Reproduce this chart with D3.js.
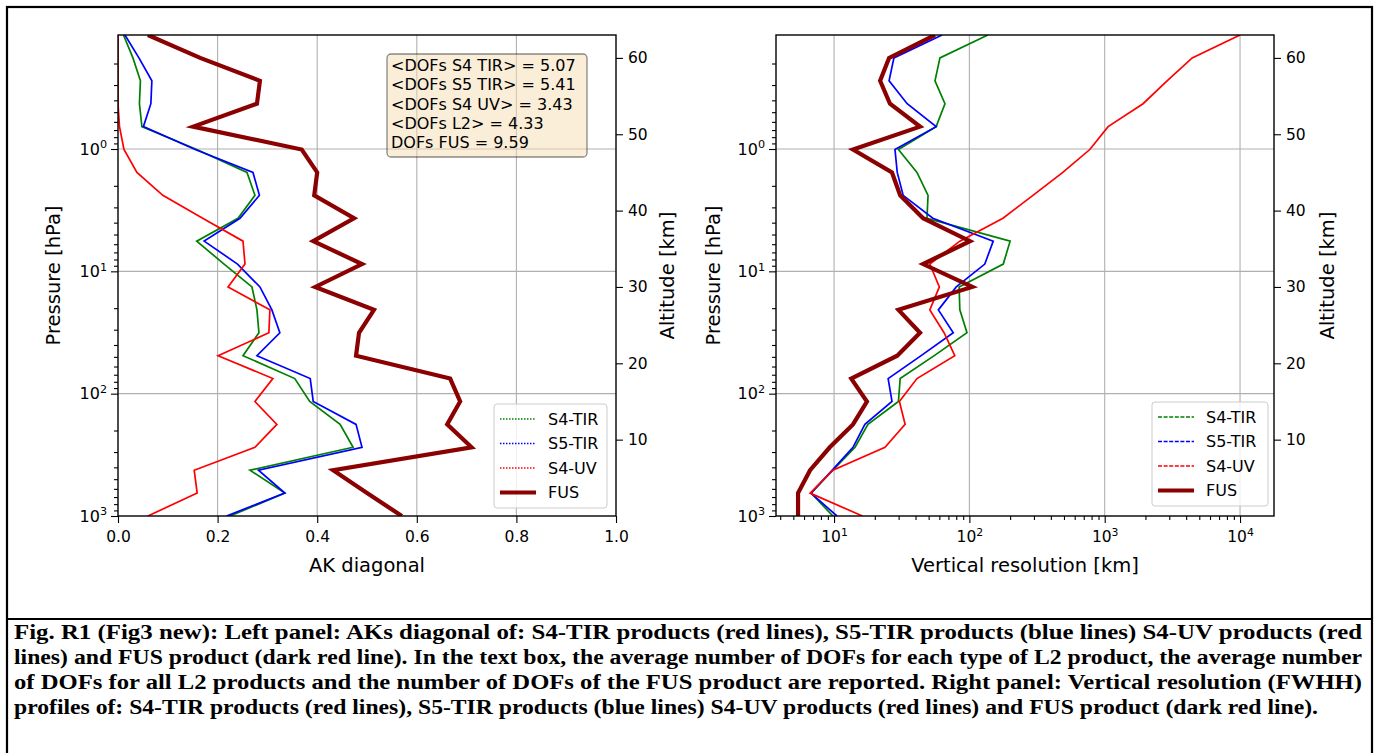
<!DOCTYPE html>
<html>
<head>
<meta charset="utf-8">
<script src="https://cdn.jsdelivr.net/npm/d3@7"></script>
<style>
  body { margin: 0; background: #fff; }
  text { font-family: "DejaVu Sans", sans-serif; }
  text.caption { font-family: "Liberation Serif", "Times New Roman", serif; font-weight: bold; }
</style>
</head>
<body>
<div id="fig"></div>
<script>
// --- Data: altitude grid (km) and profiles ---
const altitude = [0, 3, 6, 9, 12, 15, 18, 21, 24, 27, 30, 33, 36, 39, 42, 45, 48, 51, 54, 57, 60, 63];

// left panel: AK diagonal
const akS4TIR = [0.225, 0.335, 0.265, 0.472, 0.446, 0.385, 0.355, 0.251, 0.283, 0.279, 0.269, 0.213, 0.158, 0.241, 0.275, 0.259, 0.158, 0.048, 0.043, 0.045, 0.030, 0.011];
const akS5TIR = [0.218, 0.335, 0.282, 0.490, 0.478, 0.392, 0.386, 0.279, 0.325, 0.309, 0.285, 0.240, 0.173, 0.245, 0.284, 0.271, 0.155, 0.051, 0.066, 0.068, 0.042, 0.014];
const akS4UV  = [0.060, 0.159, 0.153, 0.275, 0.319, 0.275, 0.311, 0.201, 0.303, 0.305, 0.221, 0.255, 0.251, 0.170, 0.090, 0.038, 0.012, 0.003, 0.000, 0.000, 0.000, 0.000];
const akFUS   = [0.570, 0.500, 0.432, 0.710, 0.661, 0.687, 0.667, 0.478, 0.484, 0.514, 0.396, 0.490, 0.392, 0.474, 0.394, 0.400, 0.369, 0.151, 0.279, 0.285, 0.165, 0.060];

// right panel: vertical resolution (km)
const vrS4TIR = [9.8, 6.76, 9.8, 14.3, 17.8, 29.9, 30.8, 55, 96, 85, 84, 178, 200, 48.6, 49.5, 41, 29.9, 56.8, 66, 55.7, 60.6, 137];
const vrS5TIR = [10.5, 6.76, 9.7, 13.8, 16.9, 26.8, 25.1, 44, 76, 59, 80, 130, 150, 53.7, 32.4, 29.3, 28.2, 56.8, 34.7, 25.5, 27.7, 62.8];
const vrS4UV  = [16.2, 6.65, 9.8, 23.8, 33.5, 30.4, 41, 78, 65, 51, 60, 51, 85, 177, 295, 490, 776, 1060, 1920, 2890, 4430, 10000];
const vrFUS   = [5.42, 5.42, 6.65, 9.3, 13.8, 17.5, 13.4, 29.3, 43.2, 29.9, 105, 45.5, 101, 45.5, 30.8, 26.8, 13.8, 43.2, 25.9, 21.9, 25.5, 55.7];

const seriesNames = ["S4-TIR", "S5-TIR", "S4-UV", "FUS"];
const seriesColors = ["#008000", "#0000ff", "#ff0000", "#8b0000"];

const akTicks = [0, 0.2, 0.4, 0.6, 0.8, 1.0];
const vrTicks = [10, 100, 1000, 10000];
const pressureTicks = [1, 10, 100, 1000];
const altitudeTicks = [10, 20, 30, 40, 50, 60];

const dofLines = [
  "<DOFs S4 TIR> = 5.07",
  "<DOFs S5 TIR> = 5.41",
  "<DOFs S4 UV> = 3.43",
  "<DOFs L2> = 4.33",
  "DOFs FUS = 9.59"
];

const caption = [
  "Fig. R1 (Fig3 new): Left panel: AKs diagonal of: S4-TIR products (red lines), S5-TIR products (blue lines) S4-UV products (red",
  "lines) and FUS product (dark red line). In the text box, the average number of DOFs for each type of L2 product, the average number",
  "of DOFs for all L2 products and the number of DOFs of the FUS product are reported. Right panel: Vertical resolution (FWHH)",
  "profiles of: S4-TIR products (red lines), S5-TIR products (blue lines) S4-UV products (red lines) and FUS product (dark red line)."
];

// --- Layout ---
const W = 1378, H = 753;
const yTop = 35, yBottom = 516;

const svg = d3.select("#fig").append("svg")
  .attr("width", W).attr("height", H);
svg.append("rect").attr("width", W).attr("height", H).attr("fill", "#fff");

// figure frame + caption separator
svg.append("rect").attr("x", 7).attr("y", 7).attr("width", 1365).attr("height", 760)
  .attr("fill", "none").attr("stroke", "#000").attr("stroke-width", 2.2);
svg.append("line").attr("x1", 7).attr("x2", 1372).attr("y1", 619).attr("y2", 619)
  .attr("stroke", "#000").attr("stroke-width", 2.2);

const yAlt = d3.scaleLinear().domain([0, 63]).range([yBottom, yTop]);
const yP = d3.scaleLog().domain([Math.pow(10, -0.932), 1000]).range([yTop, yBottom]);

const xAK = d3.scaleLinear().domain([0, 1]).range([118, 616]);
const xVR = d3.scaleLog().domain([Math.pow(10, 0.571), Math.pow(10, 4.251)]).range([776, 1274]);

function minorLogTicks(scale) {
  const [a, b] = scale.domain();
  const out = [];
  for (let e = Math.floor(Math.log10(a)); e <= Math.ceil(Math.log10(b)); e++)
    for (let k = 2; k <= 9; k++) {
      const v = k * Math.pow(10, e);
      if (v >= a && v <= b) out.push(v);
    }
  return out;
}

function supLabels(sel) {
  sel.selectAll(".tick text").each(function (d) {
    const t = d3.select(this).text(null);
    t.append("tspan").text("10");
    t.append("tspan").attr("dy", "-0.55em").attr("font-size", "0.7em").text(Math.round(Math.log10(d)));
  });
}

function styleAxis(g, fs) {
  g.selectAll(".domain").remove();
  g.selectAll(".tick line").attr("stroke", "#000").attr("stroke-width", 1.1);
  g.selectAll(".tick text").attr("fill", "#000").attr("font-size", fs);
}

function drawPanel(cfg) {
  const { x, xTicks, logX, series, dash, legend, xLabel, pLabelX, altLabelX, clipId } = cfg;
  const [x0, x1] = x.range();
  const g = svg.append("g");

  // grid
  g.selectAll(".vg").data(xTicks.filter(t => x(t) > x0 + 1 && x(t) < x1 - 1)).join("line")
    .attr("x1", d => x(d)).attr("x2", d => x(d)).attr("y1", yTop).attr("y2", yBottom)
    .attr("stroke", "#b0b0b0").attr("stroke-width", 1.1);
  g.selectAll(".hg").data(pressureTicks.filter(p => yP(p) < yBottom - 1)).join("line")
    .attr("x1", x0).attr("x2", x1).attr("y1", d => yP(d)).attr("y2", d => yP(d))
    .attr("stroke", "#b0b0b0").attr("stroke-width", 1.1);

  // lines
  svg.append("clipPath").attr("id", clipId).append("rect")
    .attr("x", x0).attr("y", yTop).attr("width", x1 - x0).attr("height", yBottom - yTop);
  const lineGen = d3.line().x(d => x(d[0])).y(d => yAlt(d[1]));
  const lg = g.append("g").attr("clip-path", `url(#${clipId})`);
  series.forEach((vals, i) => {
    lg.append("path")
      .datum(vals.map((v, j) => [v, altitude[j]]))
      .attr("d", lineGen)
      .attr("fill", "none")
      .attr("stroke", seriesColors[i])
      .attr("stroke-width", i === 3 ? 4.2 : 1.7)
      .attr("stroke-linejoin", "miter");
  });

  // axes
  const axB = d3.axisBottom(x).tickValues(xTicks).tickSize(7).tickPadding(8);
  if (!logX) axB.tickFormat(d3.format(".1f"));
  const gb = g.append("g").attr("transform", `translate(0,${yBottom})`).call(axB);
  styleAxis(gb, "15.5px");
  if (logX) {
    supLabels(gb);
    const gm = g.append("g").attr("transform", `translate(0,${yBottom})`)
      .call(d3.axisBottom(x).tickValues(minorLogTicks(x)).tickSize(4).tickFormat(""));
    styleAxis(gm, "1px");
  }

  const gl = g.append("g").attr("transform", `translate(${x0},0)`)
    .call(d3.axisLeft(yP).tickValues(pressureTicks).tickSize(7).tickPadding(4));
  styleAxis(gl, "16px");
  supLabels(gl);
  const glm = g.append("g").attr("transform", `translate(${x0},0)`)
    .call(d3.axisLeft(yP).tickValues(minorLogTicks(yP)).tickSize(4).tickFormat(""));
  styleAxis(glm, "1px");

  const gr = g.append("g").attr("transform", `translate(${x1},0)`)
    .call(d3.axisRight(yAlt).tickValues(altitudeTicks).tickSize(7).tickPadding(5));
  styleAxis(gr, "15.5px");

  // spines
  g.append("rect").attr("x", x0).attr("y", yTop).attr("width", x1 - x0).attr("height", yBottom - yTop)
    .attr("fill", "none").attr("stroke", "#000").attr("stroke-width", 1.4);

  // axis labels
  g.append("text").attr("x", (x0 + x1) / 2).attr("y", 572).attr("text-anchor", "middle")
    .attr("font-size", "19.5px").text(xLabel);
  g.append("text").attr("transform", `translate(${pLabelX},${(yTop + yBottom) / 2}) rotate(-90)`)
    .attr("text-anchor", "middle").attr("font-size", "19.5px").text("Pressure [hPa]");
  g.append("text").attr("transform", `translate(${altLabelX},${(yTop + yBottom) / 2}) rotate(-90)`)
    .attr("text-anchor", "middle").attr("font-size", "19.5px").text("Altitude [km]");

  // legend
  const leg = g.append("g").attr("transform", `translate(${legend.x},${legend.y})`);
  leg.append("rect").attr("width", legend.w).attr("height", 104).attr("rx", 3)
    .attr("fill", "#fff").attr("fill-opacity", 0.8).attr("stroke", "#cccccc");
  seriesNames.forEach((name, i) => {
    const yy = 15 + i * 24.5;
    leg.append("line").attr("x1", 6).attr("x2", 42).attr("y1", yy).attr("y2", yy)
      .attr("stroke", seriesColors[i])
      .attr("stroke-width", i === 3 ? 4.2 : 1.5)
      .attr("stroke-dasharray", i === 3 ? null : dash);
    leg.append("text").attr("x", 54).attr("y", yy + 5.5).attr("font-size", "16px").text(name);
  });
  return g;
}

drawPanel({
  x: xAK, xTicks: akTicks, logX: false,
  series: [akS4TIR, akS5TIR, akS4UV, akFUS],
  dash: "1.5,1.5",
  legend: { x: 494, y: 404, w: 113 },
  xLabel: "AK diagonal", pLabelX: 60, altLabelX: 674, clipId: "clipL"
});

drawPanel({
  x: xVR, xTicks: vrTicks, logX: true,
  series: [vrS4TIR, vrS5TIR, vrS4UV, vrFUS],
  dash: "4,1.6",
  legend: { x: 1152, y: 402, w: 116 },
  xLabel: "Vertical resolution [km]", pLabelX: 720, altLabelX: 1334, clipId: "clipR"
});

// DOFs text box
const box = svg.append("g");
box.append("rect").attr("x", 387).attr("y", 54).attr("width", 200).attr("height", 103).attr("rx", 4)
  .attr("fill", "#f5deb3").attr("fill-opacity", 0.5)
  .attr("stroke", "#000").attr("stroke-opacity", 0.45).attr("stroke-width", 1.3);
box.selectAll("text").data(dofLines).join("text")
  .attr("x", 391).attr("y", (d, i) => 71 + i * 19.3)
  .attr("font-size", "16px").attr("fill", "#000").text(d => d);

// caption
svg.append("g").selectAll("text").data(caption).join("text")
  .attr("class", "caption")
  .attr("x", 14).attr("y", (d, i) => 639 + i * 25)
  .attr("font-size", "20px")
  .attr("textLength", (d, i) => i < 3 ? 1348 : 1304)
  .attr("lengthAdjust", "spacingAndGlyphs")
  .text(d => d);
</script>
</body>
</html>
